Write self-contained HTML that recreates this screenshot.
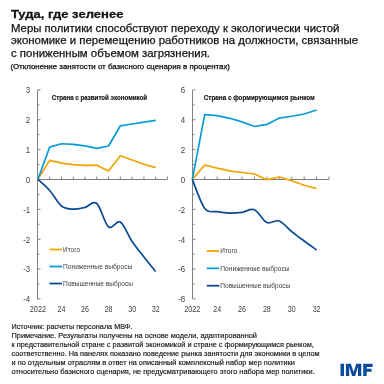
<!DOCTYPE html>
<html><head><meta charset="utf-8"><style>
html,body{margin:0;padding:0;background:#fff;width:384px;height:384px;overflow:hidden}
svg{display:block;will-change:transform}
text{font-family:"Liberation Sans",sans-serif}
</style></head><body>
<svg width="384" height="384" viewBox="0 0 384 384">
<rect width="384" height="384" fill="#fff"/>
<text x="10.9" y="17.9" font-size="11.8" font-weight="bold" text-anchor="start" fill="#141414" textLength="112.5" lengthAdjust="spacingAndGlyphs" stroke="#141414" stroke-width="0.3">Туда, где зеленее</text>
<text x="11" y="31.8" font-size="10.7" font-weight="normal" text-anchor="start" fill="#141414" textLength="328.4" lengthAdjust="spacingAndGlyphs" stroke="#141414" stroke-width="0.25">Меры политики способствуют переходу к экологически чистой</text>
<text x="11" y="44.3" font-size="10.7" font-weight="normal" text-anchor="start" fill="#141414" textLength="347.1" lengthAdjust="spacingAndGlyphs" stroke="#141414" stroke-width="0.25">экономике и перемещению работников на должности, связанные</text>
<text x="11" y="56.9" font-size="10.7" font-weight="normal" text-anchor="start" fill="#141414" textLength="199" lengthAdjust="spacingAndGlyphs" stroke="#141414" stroke-width="0.25">с пониженным объемом загрязнения.</text>
<text x="10.4" y="69.0" font-size="6.8" font-weight="normal" text-anchor="start" fill="#141414" textLength="219.6" lengthAdjust="spacingAndGlyphs" stroke="#141414" stroke-width="0.25">(Отклонение занятости от базисного сценария в процентах)</text>
<path d="M37.5,89.95 L37.5,298.90" stroke="#808080" stroke-width="1" fill="none"/>
<path d="M37.5,179.5 L167.48,179.5" stroke="#808080" stroke-width="1" fill="none"/>
<text x="30.2" y="302.29999999999995" font-size="8.7" font-weight="normal" text-anchor="end" fill="#404040" textLength="7.0" lengthAdjust="spacingAndGlyphs">-4</text>
<text x="30.2" y="272.45" font-size="8.7" font-weight="normal" text-anchor="end" fill="#404040" textLength="7.0" lengthAdjust="spacingAndGlyphs">-3</text>
<text x="30.2" y="242.6" font-size="8.7" font-weight="normal" text-anchor="end" fill="#404040" textLength="7.0" lengthAdjust="spacingAndGlyphs">-2</text>
<text x="30.2" y="212.75" font-size="8.7" font-weight="normal" text-anchor="end" fill="#404040" textLength="7.0" lengthAdjust="spacingAndGlyphs">-1</text>
<text x="30.2" y="182.9" font-size="8.7" font-weight="normal" text-anchor="end" fill="#404040" textLength="4.4" lengthAdjust="spacingAndGlyphs">0</text>
<text x="30.2" y="153.05" font-size="8.7" font-weight="normal" text-anchor="end" fill="#404040" textLength="4.4" lengthAdjust="spacingAndGlyphs">1</text>
<text x="30.2" y="123.2" font-size="8.7" font-weight="normal" text-anchor="end" fill="#404040" textLength="4.4" lengthAdjust="spacingAndGlyphs">2</text>
<text x="30.2" y="93.35" font-size="8.7" font-weight="normal" text-anchor="end" fill="#404040" textLength="4.4" lengthAdjust="spacingAndGlyphs">3</text>
<path d="M37.5,298.90 L40.5,298.90 M37.5,283.98 L39.5,283.98 M37.5,269.05 L40.5,269.05 M37.5,254.12 L39.5,254.12 M37.5,239.20 L40.5,239.20 M37.5,224.28 L39.5,224.28 M37.5,209.35 L40.5,209.35 M37.5,194.43 L39.5,194.43 M37.5,179.50 L40.5,179.50 M37.5,164.57 L39.5,164.57 M37.5,149.65 L40.5,149.65 M37.5,134.72 L39.5,134.72 M37.5,119.80 L40.5,119.80 M37.5,104.88 L39.5,104.88 M37.5,89.95 L40.5,89.95 M49.68,179.5 L49.68,176.5 M61.46,179.5 L61.46,176.5 M73.24,179.5 L73.24,176.5 M85.02,179.5 L85.02,176.5 M96.80,179.5 L96.80,176.5 M108.58,179.5 L108.58,176.5 M120.36,179.5 L120.36,176.5 M132.14,179.5 L132.14,176.5 M143.92,179.5 L143.92,176.5 M155.70,179.5 L155.70,176.5 M167.48,179.5 L167.48,176.5 " stroke="#808080" stroke-width="1" fill="none"/>
<text x="37.9" y="312.3" font-size="8.7" font-weight="normal" text-anchor="middle" fill="#404040" textLength="16.2" lengthAdjust="spacingAndGlyphs">2022</text>
<text x="61.459999999999994" y="312.3" font-size="8.7" font-weight="normal" text-anchor="middle" fill="#404040" textLength="7.9" lengthAdjust="spacingAndGlyphs">24</text>
<text x="85.02" y="312.3" font-size="8.7" font-weight="normal" text-anchor="middle" fill="#404040" textLength="7.9" lengthAdjust="spacingAndGlyphs">26</text>
<text x="108.57999999999998" y="312.3" font-size="8.7" font-weight="normal" text-anchor="middle" fill="#404040" textLength="7.9" lengthAdjust="spacingAndGlyphs">28</text>
<text x="132.14" y="312.3" font-size="8.7" font-weight="normal" text-anchor="middle" fill="#404040" textLength="7.9" lengthAdjust="spacingAndGlyphs">30</text>
<text x="155.7" y="312.3" font-size="8.7" font-weight="normal" text-anchor="middle" fill="#404040" textLength="7.9" lengthAdjust="spacingAndGlyphs">32</text>
<text x="51.8" y="99.6" font-size="6.5" font-weight="bold" text-anchor="start" fill="#141414" textLength="95.3" lengthAdjust="spacingAndGlyphs" stroke="#141414" stroke-width="0.15">Страна с развитой экономикой</text>
<path d="M37.90,179.30 L49.68,160.40 L61.46,163.10 L73.24,164.60 L85.02,165.40 L96.80,165.20 L108.58,171.00 L120.36,155.80 L132.14,160.00 L143.92,164.30 L155.70,167.60" stroke="#F2A400" stroke-width="1.7" fill="none" stroke-linejoin="round" stroke-linecap="butt"/>
<path d="M37.90,179.30 L49.68,147.10 L61.46,143.75 L73.24,144.40 L85.02,145.80 L96.80,148.30 L108.58,146.00 L120.36,125.80 L132.14,124.00 L143.92,122.20 L155.70,120.40" stroke="#0A9BD8" stroke-width="1.7" fill="none" stroke-linejoin="round" stroke-linecap="butt"/>
<path d="M37.90,179.30 C39.86,181.17 45.75,186.05 49.68,190.50 C53.61,194.95 57.53,202.88 61.46,206.00 C65.39,209.12 69.31,208.98 73.24,209.20 C77.17,209.42 81.09,208.25 85.02,207.30 C88.95,206.35 92.87,200.22 96.80,203.50 C100.73,206.78 104.65,223.92 108.58,227.00 C112.51,230.08 116.43,219.58 120.36,222.00 C124.29,224.42 128.21,235.67 132.14,241.50 C136.07,247.33 139.99,252.00 143.92,257.00 C147.85,262.00 153.74,269.08 155.70,271.50" stroke="#0B4A96" stroke-width="1.7" fill="none" stroke-linejoin="round" stroke-linecap="butt"/>
<path d="M49.5,249.50 L62.0,249.50" stroke="#F2A400" stroke-width="1.8"/>
<text x="63.0" y="251.8" font-size="6.8" font-weight="normal" text-anchor="start" fill="#404040" textLength="17" lengthAdjust="spacingAndGlyphs">Итого</text>
<path d="M49.5,266.50 L62.0,266.50" stroke="#0A9BD8" stroke-width="1.8"/>
<text x="63.0" y="268.8" font-size="6.8" font-weight="normal" text-anchor="start" fill="#404040" textLength="69.3" lengthAdjust="spacingAndGlyphs">Пониженные выбросы</text>
<path d="M49.5,283.50 L62.0,283.50" stroke="#0B4A96" stroke-width="1.8"/>
<text x="63.0" y="285.8" font-size="6.8" font-weight="normal" text-anchor="start" fill="#404040" textLength="70" lengthAdjust="spacingAndGlyphs">Повышенные выбросы</text>
<path d="M192.5,89.92 L192.5,298.94" stroke="#808080" stroke-width="1" fill="none"/>
<path d="M192.5,179.5 L329.03,179.5" stroke="#808080" stroke-width="1" fill="none"/>
<text x="185.2" y="302.34" font-size="8.7" font-weight="normal" text-anchor="end" fill="#404040" textLength="7.0" lengthAdjust="spacingAndGlyphs">-8</text>
<text x="185.2" y="272.47999999999996" font-size="8.7" font-weight="normal" text-anchor="end" fill="#404040" textLength="7.0" lengthAdjust="spacingAndGlyphs">-6</text>
<text x="185.2" y="242.62" font-size="8.7" font-weight="normal" text-anchor="end" fill="#404040" textLength="7.0" lengthAdjust="spacingAndGlyphs">-4</text>
<text x="185.2" y="212.76000000000002" font-size="8.7" font-weight="normal" text-anchor="end" fill="#404040" textLength="7.0" lengthAdjust="spacingAndGlyphs">-2</text>
<text x="185.2" y="182.9" font-size="8.7" font-weight="normal" text-anchor="end" fill="#404040" textLength="4.4" lengthAdjust="spacingAndGlyphs">0</text>
<text x="185.2" y="153.04" font-size="8.7" font-weight="normal" text-anchor="end" fill="#404040" textLength="4.4" lengthAdjust="spacingAndGlyphs">2</text>
<text x="185.2" y="123.18" font-size="8.7" font-weight="normal" text-anchor="end" fill="#404040" textLength="4.4" lengthAdjust="spacingAndGlyphs">4</text>
<text x="185.2" y="93.32000000000001" font-size="8.7" font-weight="normal" text-anchor="end" fill="#404040" textLength="4.4" lengthAdjust="spacingAndGlyphs">6</text>
<path d="M192.5,298.94 L195.5,298.94 M192.5,284.01 L194.5,284.01 M192.5,269.08 L195.5,269.08 M192.5,254.15 L194.5,254.15 M192.5,239.22 L195.5,239.22 M192.5,224.29 L194.5,224.29 M192.5,209.36 L195.5,209.36 M192.5,194.43 L194.5,194.43 M192.5,179.50 L195.5,179.50 M192.5,164.57 L194.5,164.57 M192.5,149.64 L195.5,149.64 M192.5,134.71 L194.5,134.71 M192.5,119.78 L195.5,119.78 M192.5,104.85 L194.5,104.85 M192.5,89.92 L195.5,89.92 M204.73,179.5 L204.73,176.5 M217.16,179.5 L217.16,176.5 M229.59,179.5 L229.59,176.5 M242.02,179.5 L242.02,176.5 M254.45,179.5 L254.45,176.5 M266.88,179.5 L266.88,176.5 M279.31,179.5 L279.31,176.5 M291.74,179.5 L291.74,176.5 M304.17,179.5 L304.17,176.5 M316.60,179.5 L316.60,176.5 M329.03,179.5 L329.03,176.5 " stroke="#808080" stroke-width="1" fill="none"/>
<text x="192.3" y="312.3" font-size="8.7" font-weight="normal" text-anchor="middle" fill="#404040" textLength="16.2" lengthAdjust="spacingAndGlyphs">2022</text>
<text x="217.16000000000003" y="312.3" font-size="8.7" font-weight="normal" text-anchor="middle" fill="#404040" textLength="7.9" lengthAdjust="spacingAndGlyphs">24</text>
<text x="242.02" y="312.3" font-size="8.7" font-weight="normal" text-anchor="middle" fill="#404040" textLength="7.9" lengthAdjust="spacingAndGlyphs">26</text>
<text x="266.88" y="312.3" font-size="8.7" font-weight="normal" text-anchor="middle" fill="#404040" textLength="7.9" lengthAdjust="spacingAndGlyphs">28</text>
<text x="291.74" y="312.3" font-size="8.7" font-weight="normal" text-anchor="middle" fill="#404040" textLength="7.9" lengthAdjust="spacingAndGlyphs">30</text>
<text x="316.6" y="312.3" font-size="8.7" font-weight="normal" text-anchor="middle" fill="#404040" textLength="7.9" lengthAdjust="spacingAndGlyphs">32</text>
<text x="203.8" y="99.6" font-size="6.5" font-weight="bold" text-anchor="start" fill="#141414" textLength="111" lengthAdjust="spacingAndGlyphs" stroke="#141414" stroke-width="0.15">Страна с формирующимся рынком</text>
<path d="M192.30,179.40 L204.73,165.00 L217.16,168.10 L229.59,170.80 L242.02,172.50 L254.45,174.00 L266.88,179.70 L279.31,177.00 L291.74,180.80 L304.17,185.30 L316.60,188.50" stroke="#F2A400" stroke-width="1.7" fill="none" stroke-linejoin="round" stroke-linecap="butt"/>
<path d="M192.30,179.40 L204.73,114.60 L217.16,115.60 L229.59,118.30 L242.02,121.90 L254.45,126.50 L266.88,124.40 L279.31,118.10 L291.74,116.25 L304.17,114.00 L316.60,110.00" stroke="#0A9BD8" stroke-width="1.7" fill="none" stroke-linejoin="round" stroke-linecap="butt"/>
<path d="M192.30,179.40 C194.37,184.25 200.59,203.12 204.73,208.50 C208.87,213.88 213.02,210.93 217.16,211.70 C221.30,212.47 225.45,213.00 229.59,213.10 C233.73,213.20 237.88,212.85 242.02,212.30 C246.16,211.75 250.31,208.10 254.45,209.80 C258.59,211.50 262.74,220.63 266.88,222.50 C271.02,224.37 275.17,219.47 279.31,221.00 C283.45,222.53 287.60,228.37 291.74,231.70 C295.88,235.03 300.03,237.95 304.17,241.00 C308.31,244.05 314.53,248.50 316.60,250.00" stroke="#0B4A96" stroke-width="1.7" fill="none" stroke-linejoin="round" stroke-linecap="butt"/>
<path d="M206.8,251.00 L219.3,251.00" stroke="#F2A400" stroke-width="1.8"/>
<text x="220.3" y="253.3" font-size="6.8" font-weight="normal" text-anchor="start" fill="#404040" textLength="17" lengthAdjust="spacingAndGlyphs">Итого</text>
<path d="M206.8,268.35 L219.3,268.35" stroke="#0A9BD8" stroke-width="1.8"/>
<text x="220.3" y="270.65000000000003" font-size="6.8" font-weight="normal" text-anchor="start" fill="#404040" textLength="69.3" lengthAdjust="spacingAndGlyphs">Пониженные выбросы</text>
<path d="M206.8,285.70 L219.3,285.70" stroke="#0B4A96" stroke-width="1.8"/>
<text x="220.3" y="288.0" font-size="6.8" font-weight="normal" text-anchor="start" fill="#404040" textLength="70" lengthAdjust="spacingAndGlyphs">Повышенные выбросы</text>
<text x="11.5" y="328.8" font-size="8.1" font-weight="normal" text-anchor="start" fill="#141414" textLength="120.8" lengthAdjust="spacingAndGlyphs" stroke="#141414" stroke-width="0.18">Источник: расчеты персонала МВФ.</text>
<text x="11.5" y="337.75" font-size="8.1" font-weight="normal" text-anchor="start" fill="#141414" textLength="245.5" lengthAdjust="spacingAndGlyphs" stroke="#141414" stroke-width="0.18">Примечание. Результаты получены на основе модели, адаптированной</text>
<text x="11.5" y="346.7" font-size="8.1" font-weight="normal" text-anchor="start" fill="#141414" textLength="302.3" lengthAdjust="spacingAndGlyphs" stroke="#141414" stroke-width="0.18">к представительной стране с развитой экономикой и стране с формирующимся рынком,</text>
<text x="11.5" y="355.65000000000003" font-size="8.1" font-weight="normal" text-anchor="start" fill="#141414" textLength="308.1" lengthAdjust="spacingAndGlyphs" stroke="#141414" stroke-width="0.18">соответственно. На панелях показано поведение рынка занятости для экономики в целом</text>
<text x="11.5" y="364.6" font-size="8.1" font-weight="normal" text-anchor="start" fill="#141414" textLength="283.5" lengthAdjust="spacingAndGlyphs" stroke="#141414" stroke-width="0.18">и по отдельным отраслям в ответ на описанный комплексный набор мер политики</text>
<text x="11.5" y="373.55" font-size="8.1" font-weight="normal" text-anchor="start" fill="#141414" textLength="303.2" lengthAdjust="spacingAndGlyphs" stroke="#141414" stroke-width="0.18">относительно базисного сценария, не предусматривающего этого набора мер политики.</text>
<path fill="#0A4B9B" d="M340.5,363.8H344V376H340.5Z M345.9,376V363.8H350.9L353.6,372.3L356.3,363.8H361.3V376H358V366.8L355.1,376H352.1L349.2,366.8V376Z M363.2,363.8H372.6V366.9H366.7V368.8H371.6V371.7H366.7V376H363.2Z"/>
</svg>
</body></html>
